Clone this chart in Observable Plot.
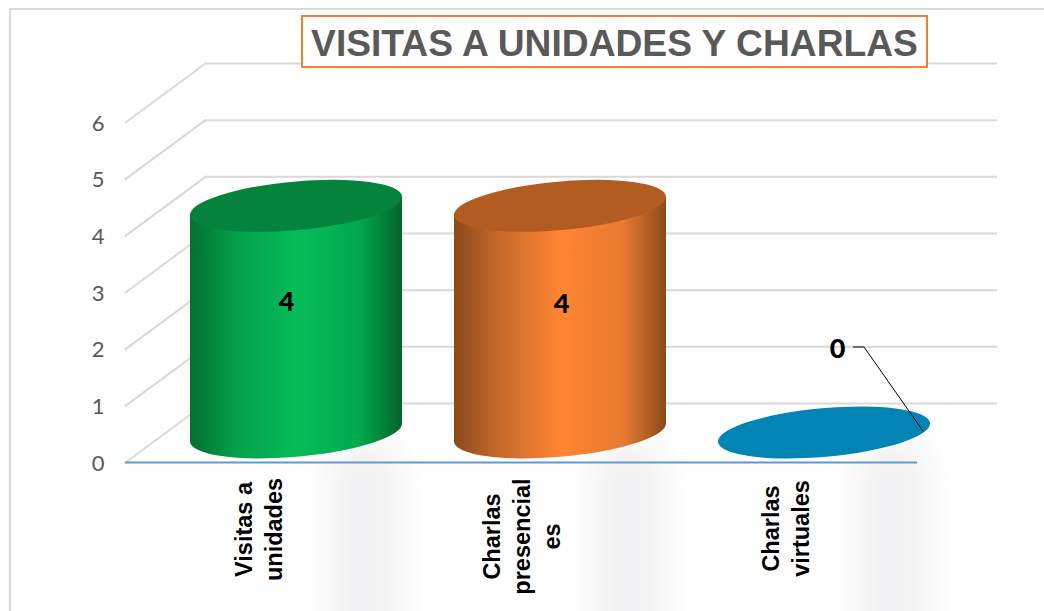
<!DOCTYPE html>
<html>
<head>
<meta charset="utf-8">
<script src="https://cdn.jsdelivr.net/npm/d3@7"></script>
<script src="https://cdn.jsdelivr.net/npm/@observablehq/plot@0.6"></script>
<style>
html,body{margin:0;padding:0;background:#fff;width:1044px;height:611px;overflow:hidden;position:relative}
#frame{position:absolute;left:9px;top:8px;width:1100px;height:700px;border:2px solid #d9d9d9;box-sizing:border-box}
#title{position:absolute;left:301px;top:15px;width:627px;height:53px;box-sizing:border-box;border:2px solid #f08030;
font:bold 37.2px "Liberation Sans",Arial,sans-serif;color:#595959;text-align:center;line-height:53px;white-space:nowrap;background:#fff;z-index:2}
#chart{position:absolute;left:0;top:0}
svg{display:block}
</style>
</head>
<body>
<div id="frame"></div>
<div id="chart"></div>
<div id="title">VISITAS A UNIDADES Y CHARLAS</div>
<script>
const categories = ["Visitas a\nunidades", "Charlas\npresencial\nes", "Charlas\nvirtuales"];
const values = [4, 4, 0];
const yTicks = [0, 1, 2, 3, 4, 5, 6];
const palette = [
  {top: "#04833c", stops: ["#04702f", "#04a04c", "#06bc58", "#00a94f", "#03642b"]},
  {top: "#b35c21", stops: ["#8a4a1c", "#c86a2a", "#ff8533", "#e87a30", "#8a4a1a"]},
  {top: "#0284b5", stops: ["#0284b5", "#0284b5", "#0284b5", "#0284b5", "#0284b5"]}
];
const rows = categories.map((c, i) => ({category: c, value: values[i]}));

// oblique projection of the chart's 3D box
const depthX = 80, depthY = 59;
const rx = 106.4, ry = 24.3, tilt = -5.1, edge = 9, halfW = 106;

function cylinders(index, scales) {
  const bw = typeof scales.x.bandwidth === "function" ? scales.x.bandwidth() : scales.x.bandwidth;
  const centre = c => scales.x(c) + bw / 2;
  const g = d3.create("svg:g");
  const defs = g.append("defs");
  const blur = defs.append("filter").attr("id", "soft").attr("x", "-100%").attr("width", "300%")
    .attr("y", "-50%").attr("height", "200%");
  blur.append("feGaussianBlur").attr("stdDeviation", 20);
  rows.forEach((d) => {
    const cx = centre(d.category) + depthX / 2 - 1;
    // soft shadow below the floor
    g.append("rect").attr("x", cx + 38).attr("y", scales.y(0) - 20).attr("width", 62).attr("height", 220)
      .attr("fill", "#f0f0f2").attr("filter", "url(#soft)");
  });
  rows.forEach((d, i) => {
    const cx = centre(d.category) + depthX / 2 - 1;
    const yb = scales.y(0) - depthY / 2, yt = scales.y(d.value) - depthY / 2;
    const grad = defs.append("linearGradient").attr("id", "cyl" + i);
    palette[i].stops.forEach((s, j) => {
      grad.append("stop").attr("offset", [0, 0.22, 0.5, 0.8, 1][j]).attr("stop-color", s);
    });
    if (d.value > 0) {
      g.append("path").attr("fill", `url(#cyl${i})`).attr("d",
        `M${cx - halfW},${yt + edge}L${cx - halfW},${yb + edge}` +
        `A${rx},${ry} ${tilt} 0 0 ${cx + halfW},${yb - edge}L${cx + halfW},${yt - edge}Z`);
    }
    g.append("ellipse").attr("cx", cx).attr("cy", yt).attr("rx", rx).attr("ry", ry)
      .attr("transform", `rotate(${tilt} ${cx} ${yt})`).attr("fill", palette[i].top);
  });
  // leader line of the zero label
  const last = rows[2];
  const lx = centre(last.category), ly = scales.y(last.value);
  g.append("path").attr("fill", "none").attr("stroke", "#000").attr("stroke-width", 1)
    .attr("d", `M${lx + 68},${ly - 115}h11L${lx + 138},${ly - 31}`);
  return g.node();
}

const diagonal = {draw(ctx, l) { ctx.moveTo(0, 0); ctx.lineTo(0, -l); }};

const catMark = (i, dx, dy) => Plot.text([rows[i]], {
  x: "category", y: 0, text: "category", rotate: -90, dx, dy,
  fontFamily: "Liberation Sans, Arial, sans-serif", fontWeight: "bold", fontSize: 23.5,
  fill: "#000", lineHeight: 1.27, textAnchor: "middle", lineAnchor: "middle"
});
const valueMark = (i, dx, dy) => Plot.text([rows[i]], {
  x: "category", y: d => d.value / 2, text: d => String(d.value), dx, dy,
  fontFamily: "Lato, sans-serif", fontWeight: 900, fontSize: 27, fill: "#000"
});

const chart = Plot.plot({
  width: 1044, height: 611,
  marginLeft: 125, marginRight: 127, marginTop: 122, marginBottom: 149,
  style: {background: "transparent"},
  x: {type: "band", domain: categories, padding: 0, axis: null},
  y: {domain: [0, 6]},
  marks: [
    Plot.ruleY(yTicks, {dx: depthX, dy: -depthY, stroke: "#d9d9d9", strokeWidth: 2}),
    Plot.vector(yTicks, {
      y: d => d, frameAnchor: "left", anchor: "start",
      length: Math.hypot(depthX, depthY), rotate: Math.atan2(depthX, depthY) * 180 / Math.PI,
      shape: diagonal, stroke: "#d9d9d9", strokeWidth: 2
    }),
    Plot.axisY(yTicks, {
      tickSize: 0, tickPadding: 21, label: null, fontSize: 22, fontFamily: "Lato, sans-serif",
      color: "#595959", fill: "#595959", dy: 1, tickFormat: d => String(d)
    }),
    cylinders,
    Plot.ruleY([0], {stroke: "#5b9bd5", strokeWidth: 2}),
    valueMark(0, 29, -47),
    valueMark(1, 40, -45),
    valueMark(2, 52, -113),
    catMark(0, 0, 67),
    catMark(1, -1, 74),
    catMark(2, -1, 66)
  ]
});
document.getElementById("chart").append(chart);
</script>
</body>
</html>
